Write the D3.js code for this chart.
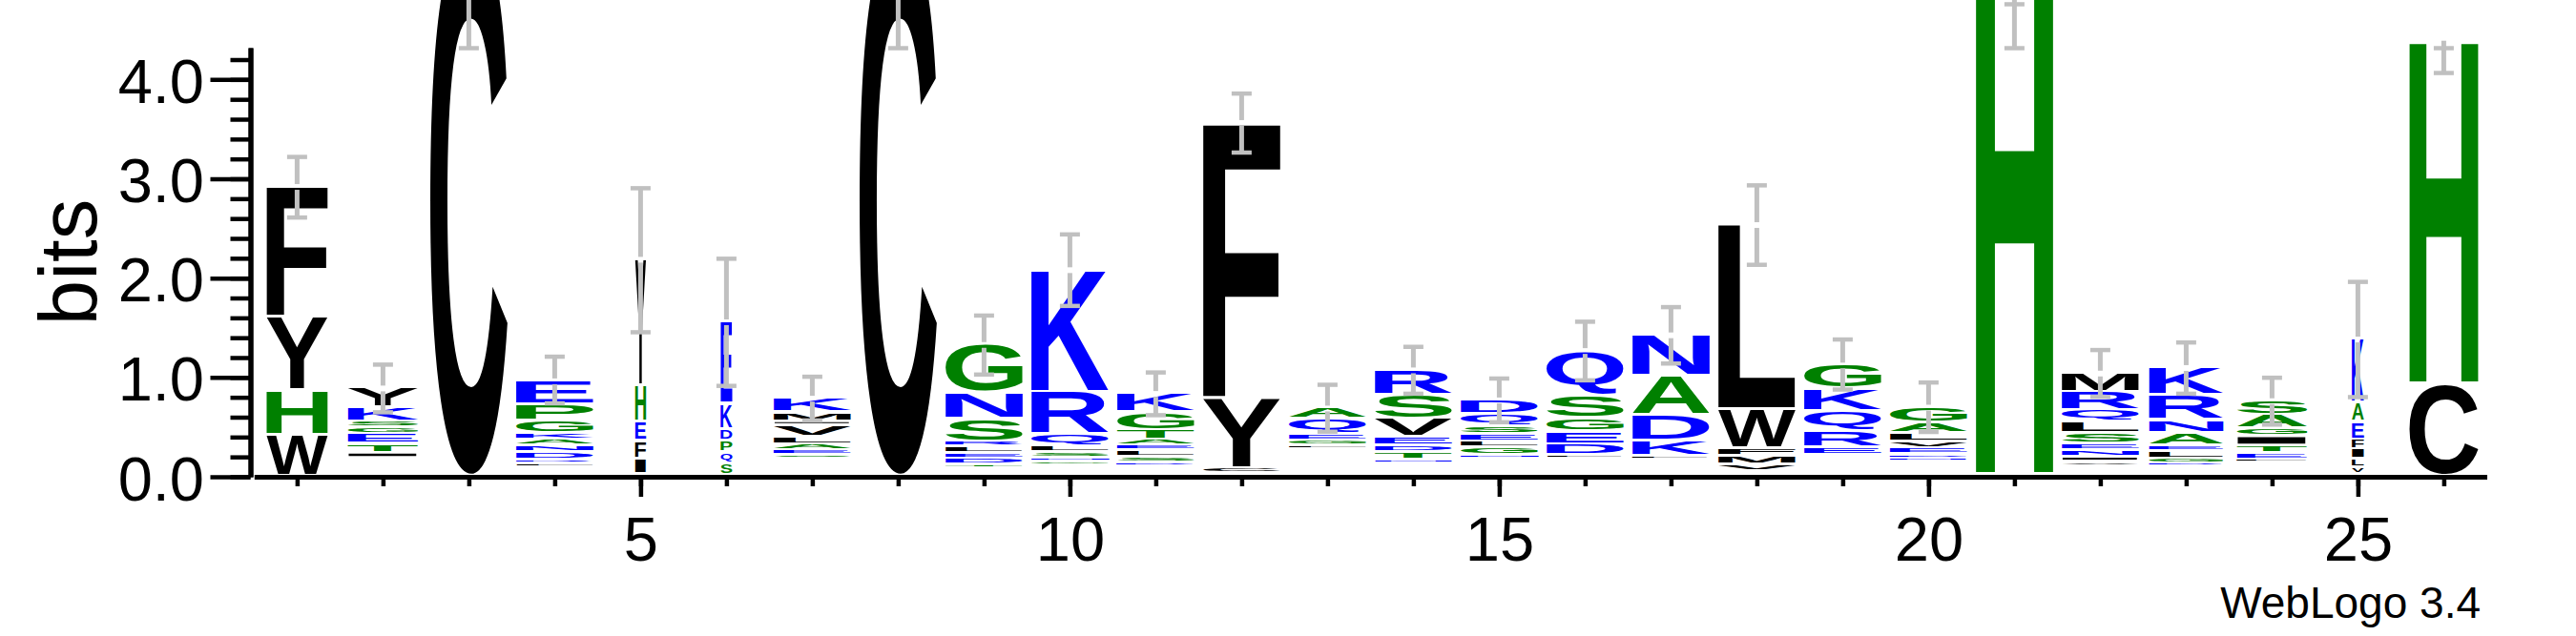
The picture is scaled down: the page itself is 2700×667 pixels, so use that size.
<!DOCTYPE html>
<html>
<head>
<meta charset="utf-8">
<script src="https://cdn.jsdelivr.net/npm/d3@7"></script>
<style>
body { margin: 0; background: #fff; }
svg { display: block; }
</style>
</head>
<body>
<div id="chart"></div>
<script>
var width = 2700,
    height = 667;

// sequence positions
var positions = [1, 2, 3, 4, 5, 6, 7, 8, 9, 10, 11, 12, 13, 14, 15, 16, 17, 18, 19, 20, 21, 22, 23, 24, 25, 26];

// stack width as fraction of a full column
var widthFrac = [0.79, 0.91, 1, 1, 0.14, 0.15, 1, 1, 1, 1, 1, 1, 1, 1, 1, 1, 1, 1, 1, 1, 1, 1, 0.96, 0.91, 0.155, 0.89];

// letters per position, bottom to top, height in bits
var stacks = [
    [["W", 0.413], ["H", 0.451], ["Y", 0.739], ["F", 1.315]],
    [["A", 0.03], ["D", 0.03], ["N", 0.03], ["Q", 0.03], ["R", 0.03], ["P", 0.03], ["I", 0.053], ["T", 0.089], ["E", 0.103], ["G", 0.06], ["S", 0.065], ["K", 0.141], ["Y", 0.198]],
    [["C", 5.5]],
    [["I", 0.03], ["L", 0.03], ["V", 0.03], ["F", 0.035], ["R", 0.04], ["D", 0.077], ["N", 0.067], ["A", 0.06], ["K", 0.064], ["G", 0.128], ["P", 0.16], ["E", 0.24]],
    [["L", 0.02], ["I", 0.156], ["F", 0.18], ["E", 0.192], ["H", 0.365], ["Y", 1.272]],
    [["A", 0.01], ["S", 0.118], ["Q", 0.112], ["P", 0.115], ["D", 0.118], ["K", 0.256], ["E", 0.826]],
    [["D", 0.03], ["N", 0.03], ["Q", 0.03], ["R", 0.03], ["G", 0.03], ["T", 0.023], ["S", 0.038], ["E", 0.048], ["A", 0.06], ["L", 0.074], ["V", 0.118], ["I", 0.038], ["M", 0.093], ["K", 0.144]],
    [["C", 5.5]],
    [["A", 0.026], ["K", 0.026], ["Q", 0.025], ["T", 0.038], ["D", 0.06], ["E", 0.055], ["L", 0.067], ["R", 0.048], ["S", 0.23], ["N", 0.262], ["G", 0.49]],
    [["A", 0.027], ["D", 0.027], ["E", 0.026], ["T", 0.026], ["G", 0.038], ["N", 0.038], ["S", 0.058], ["L", 0.058], ["Q", 0.118], ["R", 0.432], ["K", 1.232]],
    [["N", 0.025], ["Q", 0.025], ["R", 0.025], ["P", 0.025], ["D", 0.034], ["S", 0.058], ["L", 0.067], ["E", 0.048], ["A", 0.06], ["T", 0.096], ["G", 0.179], ["K", 0.192]],
    [["L", 0.024], ["C", 0.056], ["Y", 0.705], ["F", 2.777]],
    [["D", 0.027], ["K", 0.027], ["N", 0.027], ["R", 0.027], ["S", 0.027], ["T", 0.027], ["P", 0.027], ["V", 0.027], ["I", 0.026], ["M", 0.026], ["L", 0.038], ["G", 0.048], ["E", 0.067], ["Q", 0.154], ["A", 0.112]],
    [["A", 0.025], ["G", 0.025], ["K", 0.025], ["Q", 0.025], ["L", 0.025], ["N", 0.041], ["T", 0.074], ["D", 0.067], ["E", 0.086], ["V", 0.182], ["S", 0.24], ["R", 0.256]],
    [["A", 0.029], ["K", 0.029], ["R", 0.029], ["T", 0.029], ["V", 0.029], ["I", 0.028], ["N", 0.038], ["G", 0.077], ["L", 0.058], ["E", 0.077], ["S", 0.074], ["Q", 0.128], ["D", 0.144]],
    [["A", 0.029], ["K", 0.029], ["N", 0.029], ["R", 0.029], ["T", 0.029], ["V", 0.028], ["L", 0.036], ["D", 0.111], ["E", 0.128], ["G", 0.134], ["S", 0.233], ["Q", 0.451]],
    [["E", 0.028], ["G", 0.028], ["Q", 0.028], ["R", 0.028], ["S", 0.028], ["T", 0.027], ["L", 0.035], ["K", 0.151], ["D", 0.261], ["A", 0.394], ["N", 0.416]],
    [["I", 0.024], ["Y", 0.024], ["V", 0.067], ["M", 0.086], ["F", 0.08], ["W", 0.391], ["L", 1.862]],
    [["A", 0.03], ["D", 0.03], ["N", 0.03], ["S", 0.03], ["T", 0.03], ["H", 0.03], ["L", 0.031], ["E", 0.077], ["R", 0.16], ["Q", 0.207], ["K", 0.225], ["G", 0.24]],
    [["K", 0.028], ["Q", 0.028], ["R", 0.028], ["S", 0.028], ["T", 0.028], ["N", 0.035], ["D", 0.042], ["E", 0.06], ["V", 0.064], ["L", 0.089], ["A", 0.106], ["G", 0.16]],
    [["Y", 0.02], ["H", 5.45]],
    [["A", 0.025], ["D", 0.025], ["K", 0.025], ["T", 0.024], ["V", 0.045], ["I", 0.048], ["N", 0.064], ["E", 0.07], ["S", 0.106], ["L", 0.112], ["Q", 0.121], ["R", 0.182], ["M", 0.192]],
    [["Q", 0.031], ["S", 0.031], ["T", 0.031], ["D", 0.035], ["G", 0.048], ["L", 0.074], ["E", 0.055], ["A", 0.128], ["N", 0.128], ["R", 0.256], ["K", 0.278]],
    [["D", 0.026], ["K", 0.026], ["N", 0.026], ["R", 0.026], ["V", 0.027], ["L", 0.035], ["E", 0.064], ["T", 0.074], ["I", 0.096], ["G", 0.08], ["A", 0.134], ["S", 0.147]],
    [["W", 0.019], ["V", 0.07], ["L", 0.086], ["I", 0.096], ["F", 0.096], ["E", 0.177], ["A", 0.192], ["K", 0.646]],
    [["C", 0.931], ["H", 3.459]]
];

// error bar ends, bits
var errLo = [2.61, 0.649, 4.315, 0.739, 1.455, 0.915, 0.567, 4.315, 1.029, 1.72, 0.62, 3.264, 0.454, 0.836, 0.549, 0.971, 1.14, 2.134, 0.878, 0.451, 4.315, 0.804, 0.836, 0.525, 0.802, 4.065];
var errHi = [3.22, 1.129, 5.3, 1.209, 2.905, 2.195, 1.007, 5.3, 1.623, 2.44, 1.05, 3.858, 0.926, 1.308, 0.989, 1.561, 1.708, 2.934, 1.382, 0.949, 4.757, 1.276, 1.352, 0.997, 1.962, 4.315];

var xLabels = [5, 10, 15, 20, 25];
var yLabels = [0, 1, 2, 3, 4];
var yMinor = [0, 0.2, 0.4, 0.6, 0.8, 1, 1.2, 1.4, 1.6, 1.8, 2, 2.2, 2.4, 2.6, 2.8, 3, 3.2, 3.4, 3.6, 3.8, 4, 4.2];

var blue = "RKDENQ", green = "SGHTAP";
function colorOf(c) {
    if (blue.indexOf(c) >= 0) return "#0000ff";
    if (green.indexOf(c) >= 0) return "#008000";
    return "#000000";
}

var x = d3.scaleLinear().domain([0.5, 26.5]).range([266.4, 2606.4]);
var y = d3.scaleLinear().domain([0, 4.32]).range([500, 50]);
var colW = (x(2) - x(1)) * 0.9;
var gap = 3;

var svg = d3.select("#chart").append("svg")
    .attr("width", width)
    .attr("height", height);

svg.append("rect").attr("width", width).attr("height", height).attr("fill", "#fff");

// glyph ink boxes from canvas
var ctx = document.createElement("canvas").getContext("2d");
var FS = 200;
ctx.font = "bold " + FS + "px 'Liberation Sans'";
var inkCache = {};
function ink(c) {
    if (!inkCache[c]) {
        var m = ctx.measureText(c);
        inkCache[c] = { l: m.actualBoundingBoxLeft, r: m.actualBoundingBoxRight, a: m.actualBoundingBoxAscent, d: m.actualBoundingBoxDescent };
    }
    return inkCache[c];
}

var logo = svg.append("g");
var tops = [];

stacks.forEach(function(col, i) {
    var cx = x(positions[i]),
        w = colW * widthFrac[i],
        base = 0;
    col.forEach(function(d) {
        var y0 = y(base + d[1]),
            y1 = y(base);
        base += d[1];
        var h = y1 - y0 - gap;
        if (h < 0.5) return;
        var b = ink(d[0]);
        var sx = w / (b.l + b.r),
            sy = h / (b.a + b.d);
        logo.append("text")
            .text(d[0])
            .attr("font-family", "'Liberation Sans', Arial, sans-serif")
            .attr("font-weight", "bold")
            .attr("font-size", FS)
            .attr("fill", colorOf(d[0]))
            .attr("transform", "translate(" + (cx - w / 2) + "," + y0 + ") scale(" + sx + "," + sy + ") translate(" + b.l + "," + b.a + ")");
    });
    tops.push(base);
});

// error bars
var eb = svg.append("g")
    .attr("stroke", "#c0c0c0")
    .attr("fill", "none");

positions.forEach(function(p, i) {
    var cx = x(p),
        lo = errLo[i],
        hi = errHi[i],
        top = tops[i];
    var yTopEnd = y(Math.max(hi, top));
    if (top > lo && top < hi) {
        eb.append("line").attr("x1", cx).attr("x2", cx).attr("y1", y(lo)).attr("y2", y(top) + 3).attr("stroke-width", 5);
        eb.append("line").attr("x1", cx).attr("x2", cx).attr("y1", y(top) - 3).attr("y2", yTopEnd).attr("stroke-width", 5);
    } else {
        eb.append("line").attr("x1", cx).attr("x2", cx).attr("y1", y(lo)).attr("y2", yTopEnd).attr("stroke-width", 5);
    }
    [lo, hi].forEach(function(v) {
        eb.append("line").attr("x1", cx - 10.5).attr("x2", cx + 10.5).attr("y1", y(v)).attr("y2", y(v)).attr("stroke-width", 4.5);
    });
});

// y axis
var font = "'Liberation Sans', Arial, Helvetica, sans-serif";

var yMinorAxis = svg.append("g")
    .attr("transform", "translate(262.5,0)")
    .call(d3.axisLeft(y).tickValues(yMinor).tickSize(21).tickSizeOuter(0).tickFormat(""));

var yMajorAxis = svg.append("g")
    .attr("transform", "translate(262.5,0)")
    .call(d3.axisLeft(y).tickValues(yLabels).tickSize(42).tickSizeOuter(0).tickPadding(6.5).tickFormat(d3.format(".1f")));

yMajorAxis.selectAll("text")
    .attr("dy", "0.37em")
    .style("font-family", font)
    .style("font-size", "65px")
    .attr("fill", "#000");

// x axis
var xMinorAxis = svg.append("g")
    .attr("transform", "translate(0,500)")
    .call(d3.axisBottom(x).tickValues(positions).tickSize(10).tickSizeOuter(0).tickFormat(""));

var xMajorAxis = svg.append("g")
    .attr("transform", "translate(0,500)")
    .call(d3.axisBottom(x).tickValues(xLabels).tickSize(21).tickSizeOuter(0).tickPadding(21).tickFormat(d3.format("d")));

xMajorAxis.selectAll("text")
    .style("font-family", font)
    .style("font-size", "65px")
    .attr("fill", "#000");

svg.selectAll(".domain").attr("stroke", "#000").attr("stroke-width", 5);
svg.selectAll(".tick line").attr("stroke", "#000").attr("stroke-width", 4.5);

svg.append("text")
    .attr("transform", "translate(100.5,275) rotate(-90)")
    .attr("text-anchor", "middle")
    .style("font-family", font)
    .style("font-size", "85px")
    .text("bits");

svg.append("text")
    .attr("x", 2600)
    .attr("y", 648)
    .attr("text-anchor", "end")
    .style("font-family", font)
    .style("font-size", "46px")
    .text("WebLogo 3.4");
</script>
</body>
</html>
